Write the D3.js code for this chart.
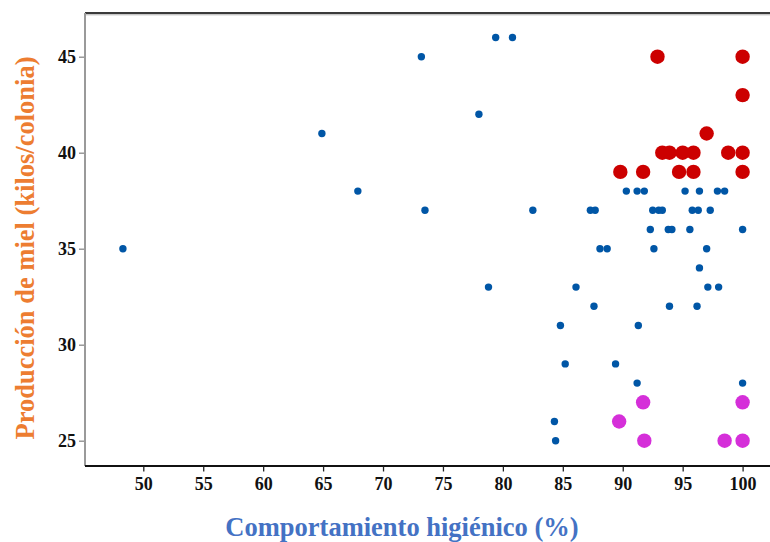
<!DOCTYPE html>
<html>
<head>
<meta charset="utf-8">
<script src="https://cdn.jsdelivr.net/npm/d3@7"></script>
<style>
  html, body { margin: 0; padding: 0; background: #fff; }
  svg { display: block; font-family: "Liberation Serif", "Times New Roman", serif; }
</style>
</head>
<body>
<svg id="chart" width="770" height="542"></svg>
<script>
// Hygienic behaviour (%) vs honey production (kg/colony) per colony
const xTicks = [50, 55, 60, 65, 70, 75, 80, 85, 90, 95, 100];
const yTicks = [25, 30, 35, 40, 45];

// Regular colonies
const blueX = [48.3, 64.9, 67.9, 73.2, 73.5, 78.0, 78.8, 79.4, 80.8, 82.5,
               86.1, 84.8, 85.2, 84.3, 84.4, 87.3, 87.7, 87.6, 88.1, 88.7,
               89.4, 90.3, 91.2, 91.8, 91.3, 91.2, 92.3, 92.5, 93.0, 93.3,
               92.6, 93.8, 94.1, 93.9, 95.2, 95.6, 95.8, 96.3, 96.4, 96.4,
               96.2, 97.0, 97.3, 97.1, 97.9, 98.5, 98.0, 100, 100];
const blueY = [35, 41, 38, 45, 37, 42, 33, 46, 46, 37,
               33, 31, 29, 26, 25, 37, 37, 32, 35, 35,
               29, 38, 38, 38, 31, 28, 36, 37, 37, 37,
               35, 36, 36, 32, 38, 36, 37, 37, 38, 34,
               32, 35, 37, 33, 38, 38, 33, 36, 28];

// High-hygiene, high-production colonies
const redX = [92.9, 100, 100, 97.0, 93.3, 93.9, 95.0, 95.9, 98.8, 100,
              89.8, 91.7, 94.7, 95.9, 100];
const redY = [45, 45, 43, 41, 40, 40, 40, 40, 40, 40,
              39, 39, 39, 39, 39];

// High-hygiene, low-production colonies
const magX = [91.7, 100, 89.7, 91.8, 98.5, 100];
const magY = [27, 27, 26, 25, 25, 25];

const serif = "Liberation Serif, Times New Roman, serif";
const svg = d3.select("#chart");

// Panel frame
const panelLeft = 85, panelRight = 770, panelTop = 13, panelBottom = 466;

const x = d3.scaleLinear().domain([50, 100]).range([143.3, 742.6]);
const y = d3.scaleLinear().domain([25, 45]).range([440.7, 56.7]);

// Top border
svg.append("line")
  .attr("x1", panelLeft).attr("x2", panelRight).attr("y1", panelTop).attr("y2", panelTop)
  .attr("stroke", "#3a3a3a").attr("stroke-width", 2.2);
svg.append("line")
  .attr("x1", panelLeft).attr("x2", panelRight).attr("y1", panelTop + 1.8).attr("y2", panelTop + 1.8)
  .attr("stroke", "#b0b0b0").attr("stroke-width", 1);

// Left axis line (grey)
svg.append("line")
  .attr("x1", panelLeft).attr("x2", panelLeft).attr("y1", panelTop).attr("y2", panelBottom)
  .attr("stroke", "#9a9a9a").attr("stroke-width", 2);

// Y axis ticks and labels
const yAxis = d3.axisLeft(y).tickValues(yTicks).tickSize(5).tickPadding(3)
  .tickFormat(d3.format("d"));
const gy = svg.append("g").attr("transform", `translate(${panelLeft - 1},0)`).call(yAxis);
gy.select(".domain").remove();
gy.selectAll(".tick line").attr("stroke", "#8a8a8a").attr("stroke-width", 1.3);
gy.selectAll(".tick text")
  .attr("fill", "#111").attr("font-size", 18).attr("font-weight", "bold")
  .attr("font-family", serif);

// Bottom axis line (dark)
svg.append("line")
  .attr("x1", panelLeft).attr("x2", panelRight).attr("y1", panelBottom).attr("y2", panelBottom)
  .attr("stroke", "#111").attr("stroke-width", 2);

// X axis ticks and labels
const xAxis = d3.axisBottom(x).tickValues(xTicks).tickSize(5).tickPadding(6)
  .tickFormat(d3.format("d"));
const gx = svg.append("g").attr("transform", `translate(0,${panelBottom + 0.5})`).call(xAxis);
gx.select(".domain").remove();
gx.selectAll(".tick line").attr("stroke", "#222").attr("stroke-width", 1.3);
gx.selectAll(".tick text")
  .attr("fill", "#111").attr("font-size", 18).attr("font-weight", "bold")
  .attr("font-family", serif);

// Points
function drawPoints(xs, ys, r, color) {
  svg.append("g").selectAll("circle")
    .data(xs.map((v, i) => [v, ys[i]]))
    .join("circle")
    .attr("cx", d => x(d[0]))
    .attr("cy", d => y(d[1]))
    .attr("r", r)
    .attr("fill", color);
}
drawPoints(blueX, blueY, 3.7, "#0056a6");
drawPoints(magX, magY, 7.2, "#d52fd9");
drawPoints(redX, redY, 7.2, "#cc0000");

// Axis titles
svg.append("text")
  .attr("x", 402).attr("y", 536)
  .attr("text-anchor", "middle")
  .attr("font-family", serif)
  .attr("font-size", 26.5).attr("font-weight", "bold")
  .attr("fill", "#4472c4")
  .text("Comportamiento higiénico (%)");

svg.append("text")
  .attr("transform", "translate(34,248) rotate(-90)")
  .attr("text-anchor", "middle")
  .attr("font-family", serif)
  .attr("font-size", 26.5).attr("font-weight", "bold")
  .attr("fill", "#ed7d31")
  .text("Producción de miel (kilos/colonia)");
</script>
</body>
</html>
